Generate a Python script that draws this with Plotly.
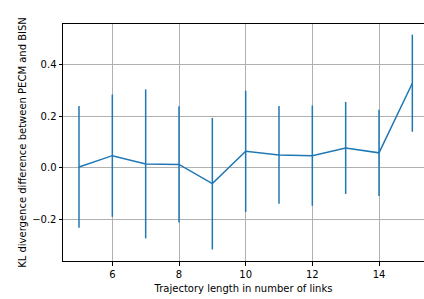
import plotly.graph_objects as go

lengths = [5, 6, 7, 8, 9, 10, 11, 12, 13, 14, 15]
kl_diff = [0.003, 0.047, 0.015, 0.013, -0.062, 0.064, 0.050, 0.047, 0.077, 0.058, 0.329]
kl_err = [0.237, 0.238, 0.29, 0.226, 0.256, 0.236, 0.19, 0.195, 0.179, 0.168, 0.189]

y_ticks = [-0.2, 0.0, 0.2, 0.4]
y_tick_labels = ["\u22120.2", "0.0", "0.2", "0.4"]
x_ticks = [6, 8, 10, 12, 14]

blue = "#1f77b4"
font = "DejaVu Sans"

fig = go.Figure()
fig.add_trace(go.Scatter(
    x=lengths, y=kl_diff, mode="lines",
    line=dict(color=blue, width=1.5),
    error_y=dict(type="data", array=kl_err, visible=True, color=blue,
                 thickness=1.5, width=0),
    showlegend=False,
))

fig.update_layout(
    width=424, height=299,
    margin=dict(l=63, r=0, t=24, b=38),
    paper_bgcolor="white", plot_bgcolor="white",
    font=dict(family=font, size=10, color="black"),
    xaxis=dict(
        range=[4.52, 15.35], tickvals=x_ticks,
        showgrid=True, gridcolor="#b0b0b0", gridwidth=0.8,
        showline=True, linecolor="black", linewidth=1, mirror=True,
        ticks="outside", ticklen=3.5, tickwidth=0.8, tickcolor="black",
        zeroline=False,
        title=dict(text="Trajectory length in number of links",
                   font=dict(family=font, size=10), standoff=6),
        tickfont=dict(family=font, size=10),
    ),
    yaxis=dict(
        range=[-0.363, 0.5594], tickvals=y_ticks, ticktext=y_tick_labels,
        showgrid=True, gridcolor="#b0b0b0", gridwidth=0.8,
        showline=True, linecolor="black", linewidth=1, mirror=False,
        ticks="outside", ticklen=3.5, tickwidth=0.8, tickcolor="black",
        zeroline=False,
        title=dict(text="KL divergence difference between PECM and BISN",
                   font=dict(family=font, size=10), standoff=3),
        tickfont=dict(family=font, size=10),
    ),
)

fig.write_html("out.html",
               config={"displayModeBar": False},
               post_script="document.body.style.margin='0';document.body.style.overflow='hidden';")
